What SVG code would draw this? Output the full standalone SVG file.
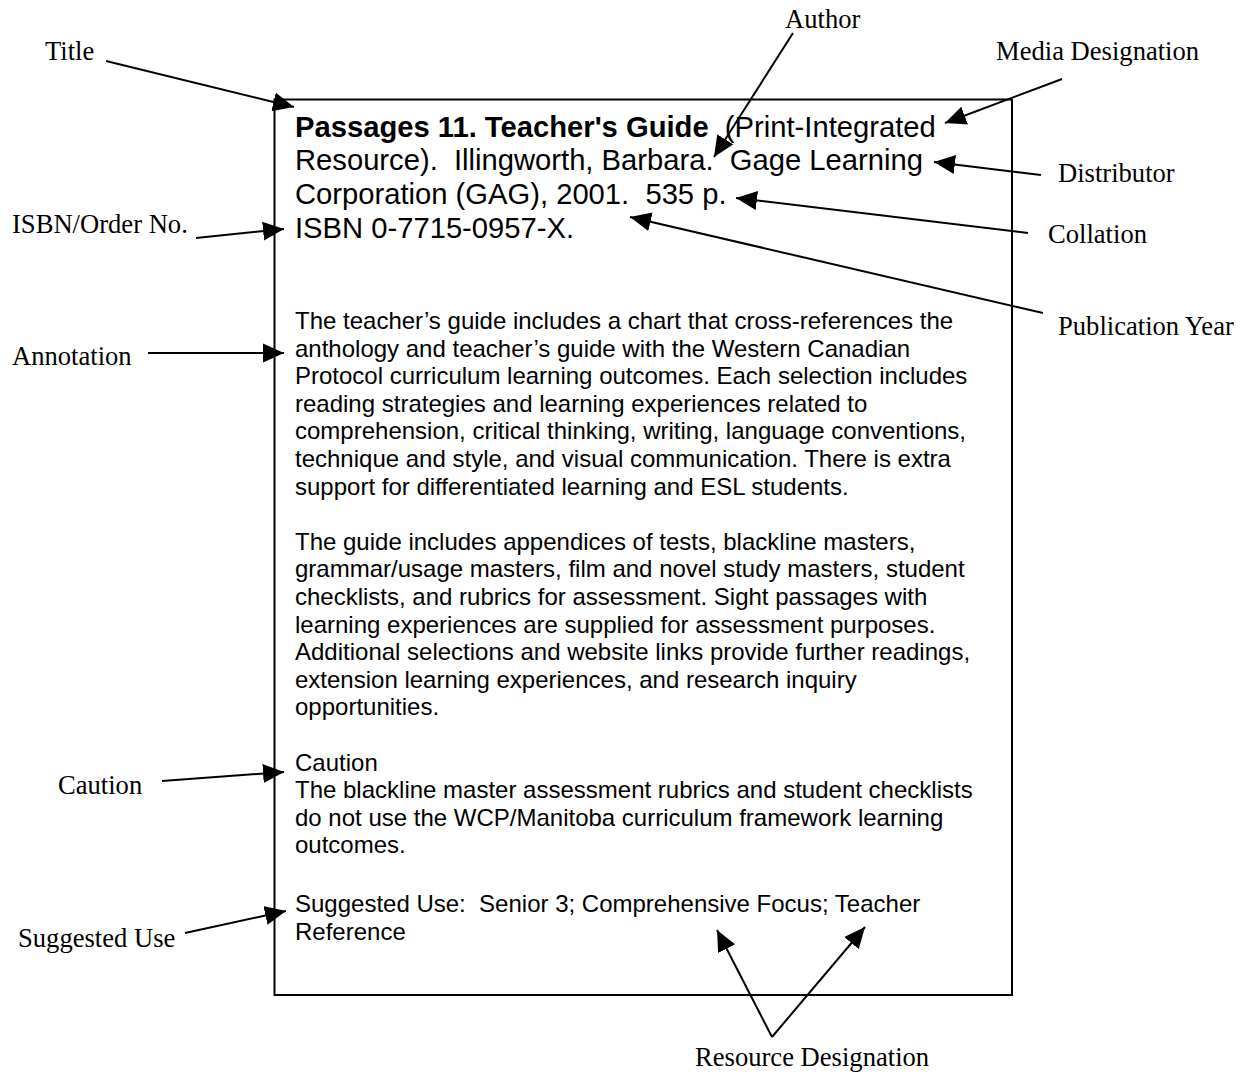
<svg xmlns="http://www.w3.org/2000/svg" width="1251" height="1077" viewBox="0 0 1251 1077">
<style>
text{white-space:pre}
.lbl{font-family:"Liberation Serif","Times New Roman",serif;font-size:26.6px;fill:#000}
.ttl{font-family:"Liberation Sans",Arial,sans-serif;font-size:29.2px;fill:#000}
.b{font-weight:bold}
.body{font-family:"Liberation Sans",Arial,sans-serif;font-size:24px;fill:#000}
.con{stroke:#000;stroke-width:2;fill:none;marker-end:url(#ah)}
</style>
<defs>
<marker id="ah" markerUnits="userSpaceOnUse" markerWidth="22" markerHeight="20" viewBox="0 0 22 20" refX="21" refY="10" orient="auto">
<path d="M0,0.5 L21,10 L0,19.5 z" fill="#000"/>
</marker>
</defs>
<rect width="1251" height="1077" fill="#fff"/>
<g id="record">
<rect x="274.5" y="99.5" width="737.5" height="895.5" fill="none" stroke="#000" stroke-width="2"/>
<text class="ttl" x="295" y="136.5"><tspan class="b">Passages 11. Teacher's Guide</tspan>  (Print-Integrated</text>
<text class="ttl" x="295" y="170">Resource).  Illingworth, Barbara.  Gage Learning</text>
<text class="ttl" x="295" y="203.5">Corporation (GAG), 2001.  535 p.</text>
<text class="ttl" x="295" y="238">ISBN 0-7715-0957-X.</text>
<text class="body" x="295" y="329">The teacher’s guide includes a chart that cross-references the</text>
<text class="body" x="295" y="356.6">anthology and teacher’s guide with the Western Canadian</text>
<text class="body" x="295" y="384.2">Protocol curriculum learning outcomes. Each selection includes</text>
<text class="body" x="295" y="411.8">reading strategies and learning experiences related to</text>
<text class="body" x="295" y="439.4">comprehension, critical thinking, writing, language conventions,</text>
<text class="body" x="295" y="467">technique and style, and visual communication. There is extra</text>
<text class="body" x="295" y="494.6">support for differentiated learning and ESL students.</text>
<text class="body" x="295" y="549.8">The guide includes appendices of tests, blackline masters,</text>
<text class="body" x="295" y="577.4">grammar/usage masters, film and novel study masters, student</text>
<text class="body" x="295" y="605">checklists, and rubrics for assessment. Sight passages with</text>
<text class="body" x="295" y="632.6">learning experiences are supplied for assessment purposes.</text>
<text class="body" x="295" y="660.2">Additional selections and website links provide further readings,</text>
<text class="body" x="295" y="687.8">extension learning experiences, and research inquiry</text>
<text class="body" x="295" y="715.4">opportunities.</text>
<text class="body" x="295" y="770.6">Caution</text>
<text class="body" x="295" y="798.2">The blackline master assessment rubrics and student checklists</text>
<text class="body" x="295" y="825.8">do not use the WCP/Manitoba curriculum framework learning</text>
<text class="body" x="295" y="853.4">outcomes.</text>
<text class="body" x="295" y="912">Suggested Use:  Senior 3; Comprehensive Focus; Teacher</text>
<text class="body" x="295" y="939.5">Reference</text>
</g>
<g id="label-title"><text class="lbl" x="45" y="60">Title</text></g>
<g id="label-author"><text class="lbl" x="785" y="28">Author</text></g>
<g id="label-media"><text class="lbl" x="996" y="60">Media Designation</text></g>
<g id="label-distributor"><text class="lbl" x="1058" y="182">Distributor</text></g>
<g id="label-collation"><text class="lbl" x="1048" y="243">Collation</text></g>
<g id="label-pubyear"><text class="lbl" x="1058" y="335">Publication Year</text></g>
<g id="label-isbn"><text class="lbl" x="12" y="233">ISBN/Order No.</text></g>
<g id="label-annotation"><text class="lbl" x="12" y="365">Annotation</text></g>
<g id="label-caution"><text class="lbl" x="58" y="794">Caution</text></g>
<g id="label-suggested"><text class="lbl" x="18" y="947">Suggested Use</text></g>
<g id="label-resource"><text class="lbl" x="695" y="1066">Resource Designation</text></g>
<g id="connectors">
<line class="con" x1="106" y1="61" x2="294" y2="107"/>
<line class="con" x1="793" y1="33" x2="714" y2="157"/>
<line class="con" x1="1062" y1="79" x2="945" y2="123"/>
<line class="con" x1="1041" y1="175" x2="934" y2="162"/>
<line class="con" x1="1028" y1="233" x2="736" y2="198"/>
<line class="con" x1="1043" y1="313" x2="630" y2="217"/>
<line class="con" x1="196" y1="238" x2="284" y2="229"/>
<line class="con" x1="148" y1="353" x2="284" y2="353"/>
<line class="con" x1="162" y1="781" x2="284" y2="772"/>
<line class="con" x1="185" y1="933" x2="286" y2="911"/>
<line class="con" x1="772" y1="1037" x2="717" y2="930"/>
<line class="con" x1="772" y1="1037" x2="865" y2="927"/>
</g>
</svg>
